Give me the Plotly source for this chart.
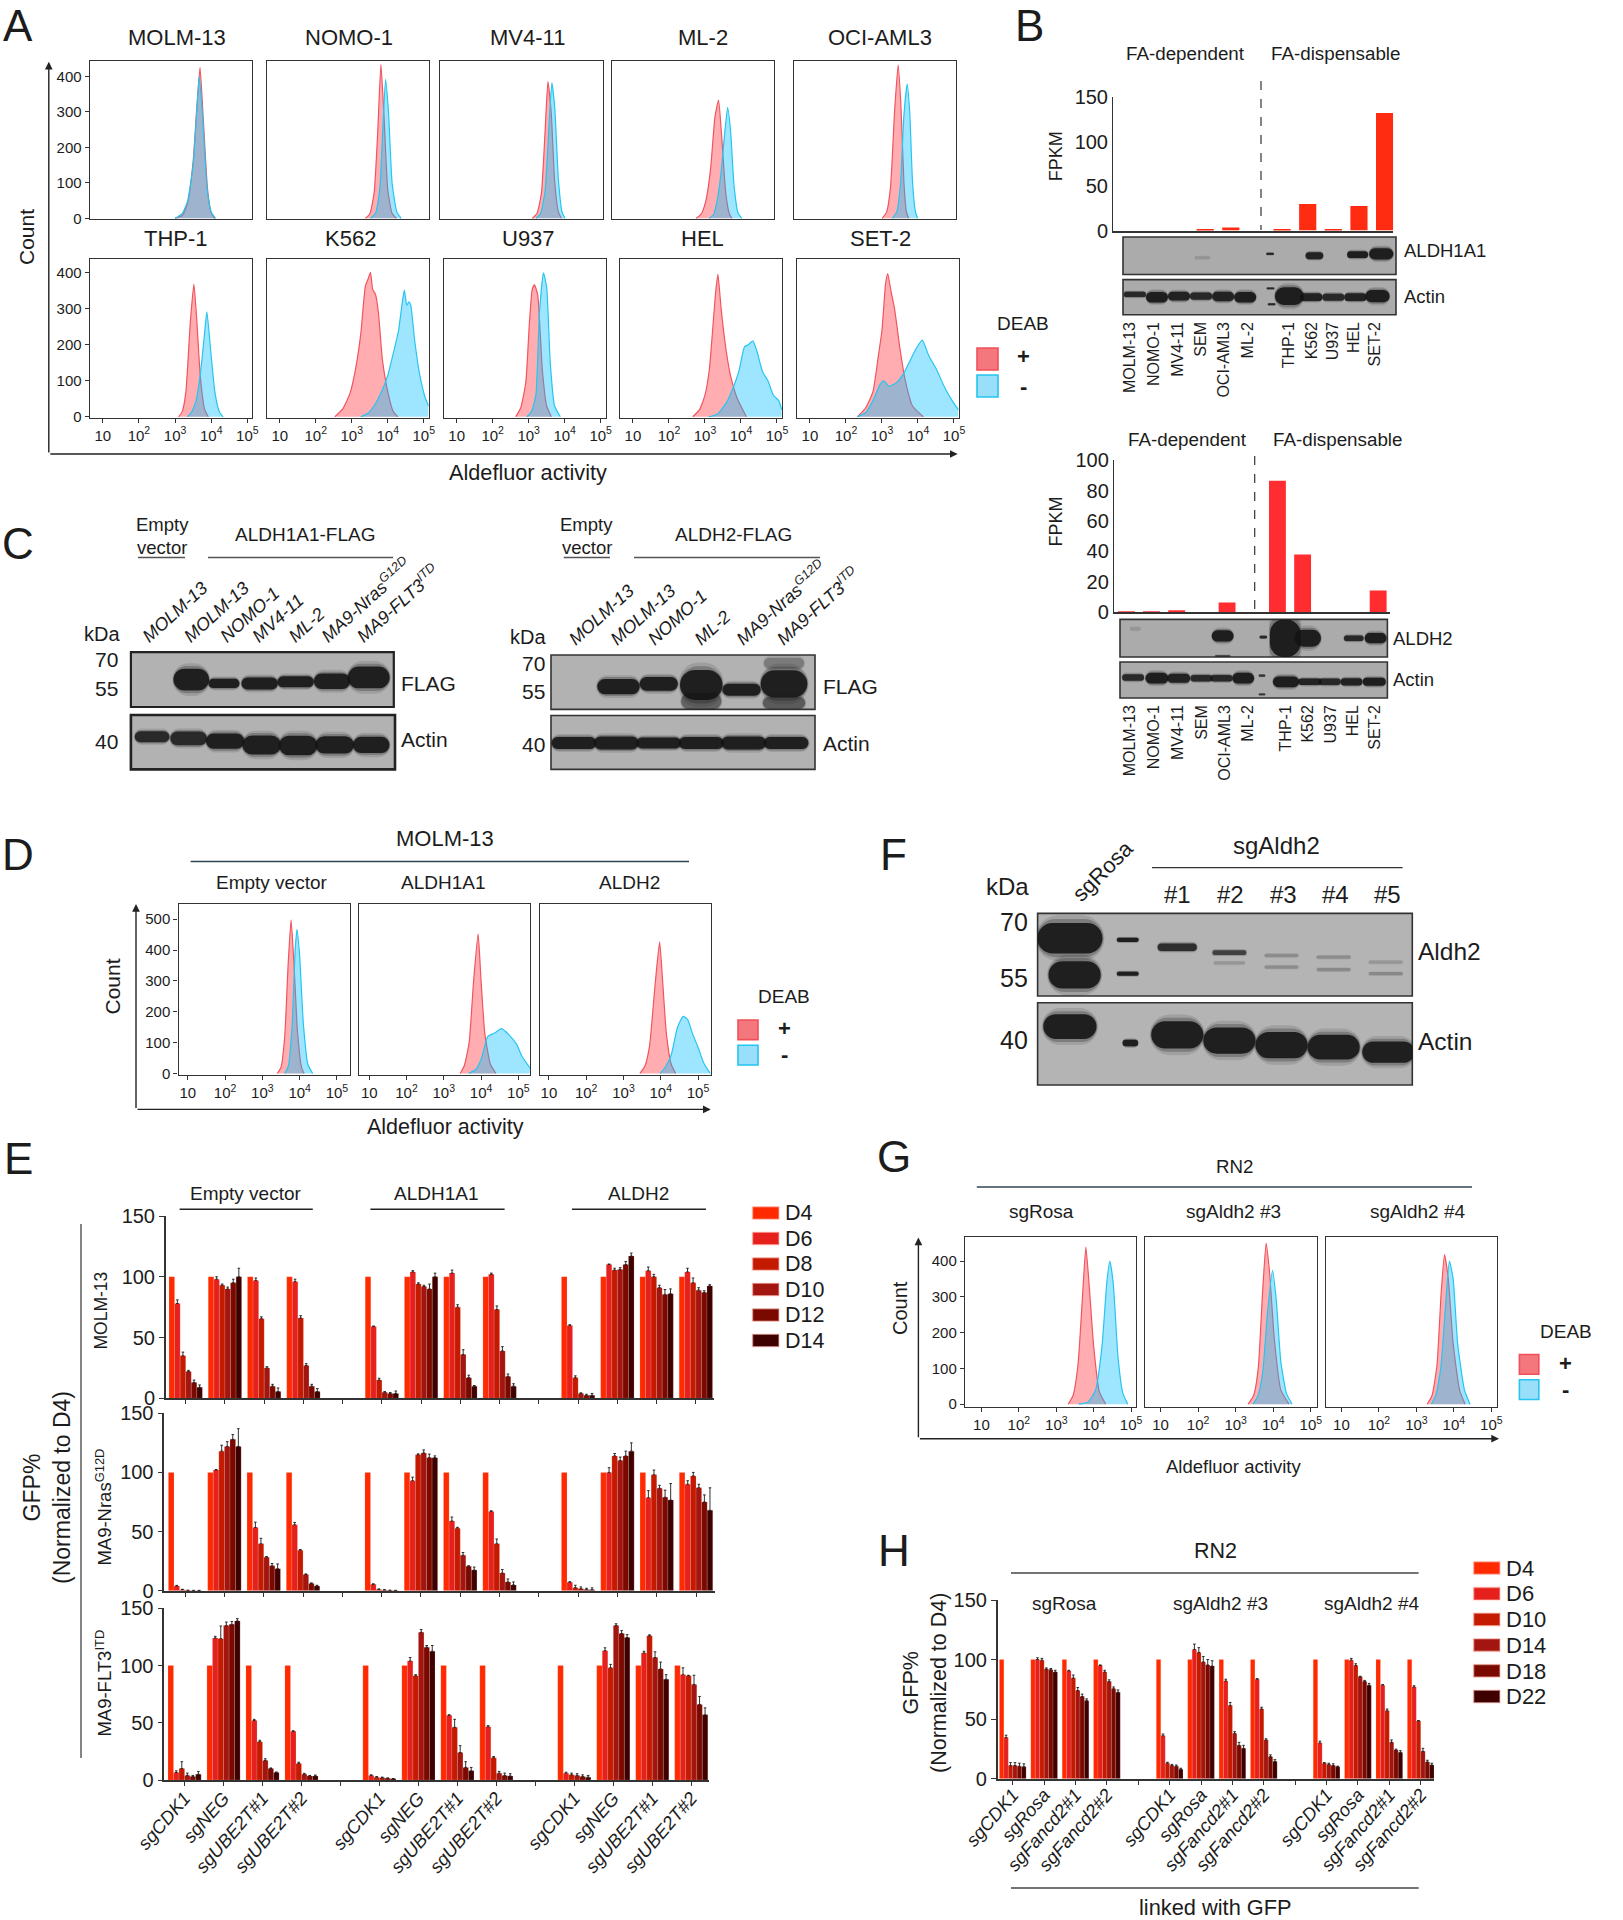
import plotly.graph_objects as go

W, H = 1623, 1920
FONT = "Liberation Sans"
INK = "#1c1c1c"

# ---------- flow cytometry histograms: log10 intensity and cell counts ----------
molm13_plus_x = [3.0,3.2,3.35,3.5,3.6,3.69,3.78,3.9,4.0,4.1]
molm13_plus_y = [0,8,45,160,310,425,280,80,15,0]
molm13_minus_x = [3.0,3.2,3.35,3.5,3.6,3.67,3.76,3.88,4.0,4.12]
molm13_minus_y = [0,14,50,150,300,400,290,90,18,0]
nomo1_plus_x = [3.38,3.5,3.62,3.72,3.81,3.9,4.0,4.12,4.24]
nomo1_plus_y = [0,12,70,240,433,280,80,14,0]
nomo1_minus_x = [3.52,3.66,3.78,3.87,3.94,4.02,4.12,4.25,4.37]
nomo1_minus_y = [0,15,85,270,391,300,100,18,0]
mv411_plus_x = [3.2,3.33,3.45,3.55,3.63,3.72,3.82,3.92,4.0]
mv411_plus_y = [0,14,70,240,385,300,100,18,0]
mv411_minus_x = [3.3,3.43,3.55,3.66,3.74,3.82,3.92,4.02,4.1]
mv411_minus_y = [0,14,75,260,382,310,110,18,0]
ml2_plus_x = [2.98,3.12,3.25,3.38,3.5,3.6,3.68,3.8,3.9,3.97]
ml2_plus_y = [0,12,50,140,285,333,240,70,12,0]
ml2_minus_x = [3.34,3.46,3.56,3.66,3.77,3.85,3.93,4.03,4.14,4.24]
ml2_minus_y = [0,10,50,120,240,312,250,90,15,0]
oci_plus_x = [3.1,3.22,3.33,3.44,3.54,3.62,3.7,3.77,3.83]
oci_plus_y = [0,18,90,300,432,310,100,18,0]
oci_minus_x = [3.38,3.5,3.6,3.7,3.79,3.86,3.94,4.02,4.08]
oci_minus_y = [0,18,90,290,378,300,100,18,0]
thp1_plus_x = [3.1,3.2,3.3,3.42,3.52,3.6,3.7,3.82,3.92]
thp1_plus_y = [0,15,70,260,369,270,110,20,0]
thp1_minus_x = [3.34,3.45,3.58,3.7,3.8,3.88,3.98,4.1,4.22,4.33]
thp1_minus_y = [0,12,45,120,215,292,190,70,15,0]
k562_plus_x = [2.53,2.75,2.95,3.1,3.25,3.38,3.46,3.52,3.58,3.66,3.74,3.85,4.0,4.15,4.28]
k562_plus_y = [0,22,65,130,230,365,385,402,355,340,290,160,70,15,0]
k562_minus_x = [3.25,3.45,3.65,3.85,4.0,4.15,4.3,4.38,4.46,4.53,4.59,4.64,4.75,4.9,5.05,5.13]
k562_minus_y = [0,10,35,75,115,175,240,300,352,310,320,310,210,110,50,30]
u937_plus_x = [2.64,2.78,2.92,3.02,3.1,3.16,3.25,3.38,3.5,3.63]
u937_plus_y = [0,25,95,260,355,367,340,130,30,0]
u937_minus_x = [2.95,3.08,3.2,3.3,3.41,3.5,3.6,3.72,3.88]
u937_minus_y = [0,15,60,290,400,360,150,30,0]
hel_plus_x = [2.66,2.85,3.0,3.12,3.22,3.3,3.36,3.45,3.58,3.72,3.9,4.15]
hel_plus_y = [0,20,60,130,250,350,396,300,190,110,50,0]
hel_minus_x = [3.1,3.35,3.6,3.8,3.95,4.1,4.2,4.33,4.45,4.6,4.75,4.9,5.05,5.13]
hel_minus_y = [0,8,40,85,130,195,200,211,180,125,100,60,45,20]
set2_plus_x = [2.32,2.55,2.75,2.9,3.0,3.1,3.16,3.25,3.35,3.5,3.65,3.85,4.15]
set2_plus_y = [0,25,70,170,240,370,398,350,300,190,100,30,0]
set2_minus_x = [2.32,2.55,2.75,2.95,3.05,3.2,3.4,3.6,3.75,3.95,4.12,4.3,4.5,4.75,4.95,5.12]
set2_minus_y = [0,12,45,90,100,85,95,120,150,190,213,170,135,80,45,20]

d_empty_plus_x = [3.4,3.5,3.6,3.69,3.77,3.85,3.94,4.05,4.12]
d_empty_plus_y = [0,20,120,350,498,350,140,20,0]
d_empty_minus_x = [3.6,3.7,3.8,3.88,3.93,4.0,4.1,4.22,4.35]
d_empty_minus_y = [0,25,160,400,467,380,160,30,0]
d_a1_plus_x = [3.44,3.55,3.68,3.8,3.92,4.0,4.1,4.25,4.4]
d_a1_plus_y = [0,25,100,300,452,300,130,30,0]
d_a1_minus_x = [3.67,3.85,4.0,4.18,4.35,4.55,4.75,4.95,5.1,5.33]
d_a1_minus_y = [0,12,45,120,130,145,125,95,55,15]
d_a2_plus_x = [3.44,3.58,3.7,3.85,3.97,4.05,4.15,4.28,4.4]
d_a2_plus_y = [0,25,90,290,426,300,130,30,0]
d_a2_minus_x = [3.98,4.12,4.28,4.45,4.6,4.72,4.85,5.0,5.15,5.33]
d_a2_minus_y = [0,20,60,150,185,175,130,85,35,0]

g_rosa_plus_x = [3.32,3.45,3.58,3.7,3.79,3.88,4.0,4.15,4.32]
g_rosa_plus_y = [0,25,110,300,439,330,160,35,0]
g_rosa_minus_x = [3.6,3.85,4.05,4.22,4.35,4.43,4.52,4.65,4.78,4.91]
g_rosa_minus_y = [0,6,40,160,340,400,340,130,30,0]
g_sg3_plus_x = [3.33,3.48,3.6,3.72,3.81,3.9,4.03,4.2,4.42]
g_sg3_plus_y = [0,25,100,320,450,370,180,40,0]
g_sg3_minus_x = [3.46,3.6,3.72,3.85,3.98,4.08,4.2,4.35,4.5]
g_sg3_minus_y = [0,25,90,260,374,290,120,30,0]
g_sg4_plus_x = [3.29,3.42,3.55,3.66,3.75,3.85,3.98,4.15,4.3]
g_sg4_plus_y = [0,25,110,310,418,350,170,40,0]
g_sg4_minus_x = [3.4,3.52,3.65,3.78,3.88,3.98,4.1,4.28,4.43]
g_sg4_minus_y = [0,25,100,280,400,350,170,40,0]

log_ticks = [1, 2, 3, 4, 5]
log_labels = ["10", "10<sup>2</sup>", "10<sup>3</sup>", "10<sup>4</sup>", "10<sup>5</sup>"]

# ---------- panel B bars ----------
b_lines = ["MOLM-13","NOMO-1","MV4-11","SEM","OCI-AML3","ML-2","THP-1","K562","U937","HEL","SET-2"]
aldh1a1_fpkm = [0,0,0,1,3.5,0,1.5,30,1.5,27.5,132]
aldh2_fpkm = [0.2,0.4,0.8,0,6.4,0,86.4,38,0,0,14.2]

# ---------- dropout bars: one row per guide, one column per time point ----------
e_days = ["D4","D6","D8","D10","D12","D14"]
h_days = ["D4","D6","D10","D14","D18","D22"]
day_colors = ["#ff2a00","#e5201d","#c41a00","#a3150f","#7a0a00","#3f0000"]
e_guides = ["sgCDK1","sgNEG","sgUBE2T#1","sgUBE2T#2","","sgCDK1","sgNEG","sgUBE2T#1","sgUBE2T#2","","sgCDK1","sgNEG","sgUBE2T#1","sgUBE2T#2"]
h_guides = ["sgCDK1","sgRosa","sgFancd2#1","sgFancd2#2","","sgCDK1","sgRosa","sgFancd2#1","sgFancd2#2","","sgCDK1","sgRosa","sgFancd2#1","sgFancd2#2"]
guide_slots = [0,1,2,3,5,6,7,8,10,11,12,13]

e_molm13 = [[100,78,35,22,13,9],[100,98,93,90,95,100],[100,97,65.5,25,10,5.5],[100,96,66,27,10,5.5],
            [100,59,15,5,4,4],[100,104,94,92,90,100],[100,103,75,36,17,10],[100,102,73,39,18,10],
            [100,60,17,4,2.5,2.5],[100,110,105.5,106,110,117],[100,105,100,91,85.5,86],[100,104,95,89,87,92.5]]
e_molm13_err = [[0,3,3,1,2,2],[0,2,1,1.5,3,7],[0,2,1.5,1,1.5,3],[0,2,2,1.5,1.5,2.5],
                [0,.5,1.5,.5,.8,2],[0,1,1,1,4,3],[0,2.5,2,4,2,.5],[0,1,3,3.5,2,2],
                [0,.5,1.5,.5,.8,1.5],[0,.5,1.5,1.5,2.5,2.5],[0,3,2,2,4,4],[0,3,4,2,1.5,1]]
e_nras = [[100,4,.9,.3,.2,.2],[100,102,118,122,128,122],[100,53.4,39.7,28.3,21,18.6],[100,55.7,34.3,13.7,6,4],
          [100,5.4,1.1,.6,.3,.2],[100,93,115,116.5,112.5,112.5],[100,58.9,52.9,30,20.6,17.4],[100,66.9,39.7,14.9,7.4,4.9],
          [100,7.1,2.6,1.7,1.1,.9],[100,100,114,110,114,118],[100,78.6,98,86.6,79,76.6],[100,90,97,87,75,68]]
e_nras_err = [[0,.5,.3,.1,.1,.1],[0,.4,5,4,4,15],[0,4.6,4.6,.6,2,4],[0,2,.5,.5,.6,.6],
              [0,.4,.4,.3,.1,.1],[0,3,.7,2.5,3,1.5],[0,3.4,.7,2.3,.5,2.6],[0,.7,4,3,2.5,2.5],
              [0,.5,2,1.5,1,1.5],[0,4,2,3,4,7],[0,6,4,2.5,6,14],[0,3,3,3,6,19]]
e_flt3 = [[100,6.5,10,4,3,5],[100,124,123.5,135,136,139],[100,52,33.5,17,10,6.5],[100,42.5,14.5,5,3.5,3.5],
          [100,4,2.5,2,1.5,1],[100,104,91,129,116,112.5],[100,56.5,46,24,11,8],[100,46.5,19.5,6,4,3.5],
          [100,6,4.5,4,3,2.5],[100,113,98,135,128,124.5],[100,111,126,107,97,88],[100,92,91,83.5,66,57]]
e_flt3_err = [[0,1.5,6,2,1,2.5],[0,1.5,11,3,2.5,2],[0,1,1.2,1.5,.5,.5],[0,.5,1,.8,.5,.8],
              [0,.5,.5,.5,.3,.3],[0,3,1,2.5,1.5,5],[0,.5,7,6,5,3],[0,1,1,1.5,2,2],
              [0,.8,1.5,1.5,1.5,1.5],[0,2.5,3,1.5,2.5,2.5],[0,1.5,.8,5,6,4],[0,6,.5,8,7,6]]
h_rn2 = [[100,34.5,11,11,10.5,10],[100,100,99.5,92,91.5,89.5],[100,90.5,84.5,74,69,65.5],[100,95,89.5,81.5,75.5,72.5],
         [100,36,13,11,10.5,8],[100,108.5,106,98,95.5,94.5],[100,82,61.5,38,28,25.5],[100,83.5,58.5,32.5,18.5,14.5],
         [100,30,13,12,11,10],[100,99.5,95,85.5,81.5,78.5],[100,78.5,57,30.5,24,22],[100,77,48.5,23,14,11.5]]
h_rn2_err = [[0,2,2.5,2.5,2.5,2.5],[0,1.5,1.5,1,1,1.5],[0,.5,2.5,2.5,2,1.5],[0,.5,1.5,1.5,1.5,2],
             [0,1.5,.8,1,1,.8],[0,4.5,4,4.5,4.5,4.5],[0,1.5,2.5,1.5,2.5,2.5],[0,.5,1.5,1,1.5,1.5],
             [0,1.5,.5,1,1.5,.5],[0,1.5,1.5,.5,1,1.5],[0,.5,1.5,2,.8,1.5],[0,1,.3,2.5,1.5,1.5]]

# ---------- western blot bands: lane, lane width, vertical place and thickness (0-1), darkness (0-1) ----------
b1_aldh1a1_lane = [3.06,6.13,8.14,10.1,11.17]
b1_aldh1a1_wide = [.7,.35,.8,.95,1.1]
b1_aldh1a1_mid = [.45,.55,.5,.53,.55]
b1_aldh1a1_high = [.08,.06,.18,.18,.3]
b1_aldh1a1_dark = [.12,.9,.95,1,1]
b1_actin_lane = [0,1,2,3,4,5,6.15,6.2,7,8,9,10,11]
b1_actin_wide = [1,1,1,1,1,1,.35,.35,1.3,1,1,1,1.1]
b1_actin_mid = [.58,.5,.53,.53,.52,.5,.75,.3,.53,.5,.5,.5,.53]
b1_actin_high = [.15,.3,.25,.2,.27,.3,.05,.06,.5,.22,.2,.22,.35]
b1_actin_dark = [.9,1,.95,.9,.95,1,.9,.9,1,.95,.9,.95,1]
b2_aldh2_lane = [.1,4.1,4.1,5.96,6.96,8,10.1,11.1]
b2_aldh2_wide = [.5,1,.7,.35,1.4,1.2,.9,1]
b2_aldh2_mid = [.75,.56,.03,.53,.5,.5,.5,.5]
b2_aldh2_high = [.1,.3,.05,.07,1,.45,.15,.27]
b2_aldh2_dark = [.1,1,.6,.9,1,1,.9,1]
b2_actin_lane = [0,1.09,2.09,3.13,4.05,5.04,5.9,5.9,7,8.09,9,10,11.04]
b2_actin_wide = [1,1.05,1.05,1,1,1,.3,.3,1.2,1.05,1,1,1.05]
b2_actin_mid = [.57,.55,.55,.55,.55,.55,.62,.1,.45,.45,.45,.45,.45]
b2_actin_high = [.18,.3,.25,.18,.18,.3,.06,.05,.3,.18,.18,.2,.22]
b2_actin_dark = [.9,1,.95,.9,.9,1,.8,.8,1,.95,.9,.95,1]
c1_flag_lane = [1.08,1.98,2.96,3.95,4.95,5.96]
c1_flag_wide = [.98,.85,1,1,1,1.15]
c1_flag_mid = [.5,.43,.43,.46,.47,.54]
c1_flag_high = [.4,.17,.22,.2,.28,.4]
c1_flag_dark = [1,1,1,1,1,1]
c1_actin_lane = [0,1,2,3,4,5,6]
c1_actin_wide = [.95,1,1.05,1.05,1.05,1.05,1]
c1_actin_mid = [.6,.57,.52,.45,.44,.45,.45]
c1_actin_high = [.2,.25,.28,.35,.36,.32,.3]
c1_actin_dark = [.9,.9,1,1,1,1,1]
c2_flag_lane = [1.05,2,3,3.95,4.95,3,4.95,4.95]
c2_flag_wide = [1,.9,1,.9,1.1,.95,1,.95]
c2_flag_mid = [.42,.47,.45,.36,.47,.15,.12,.85]
c2_flag_high = [.28,.25,.55,.22,.5,.3,.22,.2]
c2_flag_dark = [1,1,1,1,1,.45,.5,.3]
c2_actin_lane = [0,1,2,3,4,5]
c2_actin_wide = [1.05,1.05,1.05,1.05,1.05,1.05]
c2_actin_mid = [.49,.49,.49,.49,.49,.49]
c2_actin_high = [.22,.24,.2,.22,.24,.22]
c2_actin_dark = [1,1,1,1,1,1]
f_aldh2_lane = [-2.06,-1.97,-.95,-.95,0,1,2,2,3,3,4,4,1]
f_aldh2_wide = [1.25,1,.42,.42,.75,.65,.65,.65,.65,.65,.65,.65,.6]
f_aldh2_mid = [.7,.255,.68,.27,.59,.525,.49,.35,.47,.32,.41,.27,.4]
f_aldh2_high = [.37,.33,.05,.05,.09,.06,.04,.04,.04,.04,.04,.04,.04]
f_aldh2_dark = [1,1,1,1,.85,.7,.2,.2,.2,.22,.15,.22,.15]
f_actin_lane = [-2.06,-.9,0,1,2,3,4.05]
f_actin_wide = [1.02,.3,1,1,1,1,1]
f_actin_mid = [.71,.51,.61,.54,.485,.46,.4]
f_actin_high = [.3,.08,.33,.32,.32,.3,.26]
f_actin_dark = [1,1,1,1,1,1,1]

fig = go.Figure()
layout = dict(width=W, height=H, autosize=False, margin=dict(l=0, r=0, t=0, b=0, pad=0),
              paper_bgcolor="white", plot_bgcolor="rgba(0,0,0,0)", showlegend=False,
              font=dict(family=FONT, color=INK), barmode="group", bargap=0.15, bargroupgap=0)
shapes, notes = [], []
n_axes = [0]


def px(x): return x / W
def py(y): return 1 - y / H


def axes(box, xa, ya):
    n_axes[0] += 1
    n = n_axes[0]
    s = "" if n == 1 else str(n)
    x0, y0, x1, y1 = box
    layout["xaxis" + s] = dict(domain=[px(x0), px(x1)], anchor="y" + s, zeroline=False, showgrid=False, automargin=False, **xa)
    layout["yaxis" + s] = dict(domain=[py(y1), py(y0)], anchor="x" + s, zeroline=False, showgrid=False, automargin=False, **ya)
    return "x" + s, "y" + s


def T(x, y, text, size=19, rot=0, anchor="center", style="normal"):
    if anchor == "left":
        x -= 2
    notes.append(dict(x=px(x), y=py(y), xref="paper", yref="paper", text=text, showarrow=False,
                      textangle=rot, xanchor=anchor, yanchor="middle", align="center",
                      font=dict(size=size, color=INK, family=FONT, style=style)))


def L(x0, y0, x1, y1, color="#222222", width=1.4, dash="solid"):
    shapes.append(dict(type="line", xref="paper", yref="paper", x0=px(x0), x1=px(x1), y0=py(y0), y1=py(y1),
                       line=dict(color=color, width=width, dash=dash)))


def R(x0, y0, x1, y1, fill, line):
    shapes.append(dict(type="rect", xref="paper", yref="paper", x0=px(x0), x1=px(x1), y0=py(y0), y1=py(y1),
                       fillcolor=fill, line=dict(color=line, width=1.6)))


def arrows(xa, ytop, ybot, xright):
    for hx, hy, dx, dy in [(xa, ytop, 0, ybot - ytop), (xright, ybot, xa - xright, 0)]:
        notes.append(dict(x=px(hx), y=py(hy), xref="paper", yref="paper", text="", showarrow=True,
                          ax=dx, ay=dy, axref="pixel", ayref="pixel", arrowhead=2, arrowsize=1.1,
                          arrowwidth=1.4, arrowcolor="#222222", standoff=0, startstandoff=0))


def hist(box, xr, yr, curves, showx, showy):
    frame = dict(showline=True, mirror=True, linecolor="#333333", linewidth=1.4)
    xa = dict(range=xr, tickvals=log_ticks, ticktext=log_labels, ticks="outside" if showx else "",
              ticklen=4, tickcolor="#333333", showticklabels=showx, tickfont=dict(size=15), **frame)
    ya = dict(range=yr, dtick=100, ticks="outside" if showy else "", ticklen=4, tickcolor="#333333",
              showticklabels=showy, tickfont=dict(size=15), **frame)
    xn, yn = axes(box, xa, ya)
    px_, py_, mx_, my_ = curves
    fig.add_trace(go.Scatter(x=px_, y=py_, xaxis=xn, yaxis=yn, mode="lines", fill="tozeroy", hoverinfo="skip",
                             line=dict(color="#f2545f", width=1.2, shape="spline", smoothing=0.5),
                             fillcolor="rgba(255,60,70,0.42)"))
    fig.add_trace(go.Scatter(x=mx_, y=my_, xaxis=xn, yaxis=yn, mode="lines", fill="tozeroy", hoverinfo="skip",
                             line=dict(color="#25c5f0", width=1.2, shape="spline", smoothing=0.5),
                             fillcolor="rgba(0,190,255,0.38)"))


def blot(box, xr, lane, wide, mid, high, dark, bg="#b2b2b2", edge="#333333", edge_w=1.6, radius="45%", **xa):
    base_x = dict(range=xr, ticks="", showticklabels=False)
    base_x.update(xa)
    xn, yn = axes(box, base_x, dict(range=[0, 1], ticks="", showticklabels=False))
    dom_x = xn + " domain"
    dom_y = yn + " domain"
    shapes.append(dict(type="rect", xref=dom_x, yref=dom_y, x0=0, x1=1, y0=0, y1=1, fillcolor=bg, layer="below",
                       line=dict(color=edge, width=edge_w)))
    for grow, fade in [(1.5, 0.12), (1.25, 0.25), (1.0, 0.88)]:
        fig.add_trace(go.Bar(x=lane, y=[h * grow for h in high],
                             base=[m - h * grow / 2 for m, h in zip(mid, high)],
                             width=[w * (1 + (grow - 1) * 0.12) for w in wide], xaxis=xn, yaxis=yn, offsetgroup="b",
                             hoverinfo="skip",
                             marker=dict(color=[f"rgba(18,18,18,{d * fade:.2f})" for d in dark],
                                         cornerradius=radius, line=dict(width=0))))


def dropout(box, xr, table, err, colors, xa_extra, yfont=20):
    xa = dict(range=xr, tickvals=list(range(14)), ticks="outside", ticklen=4, showline=True, linecolor="#333333",
              linewidth=2, tickcolor="#333333", showticklabels=False)
    xa.update(xa_extra)
    ya = dict(range=[0, 150], tickvals=[0, 50, 100, 150], ticks="outside", ticklen=5, showline=True,
              linecolor="#333333", linewidth=1.6, tickcolor="#333333", tickfont=dict(size=yfont))
    xn, yn = axes(box, xa, ya)
    for d, color in enumerate(colors):
        fig.add_trace(go.Bar(x=guide_slots, y=[row[d] for row in table], xaxis=xn, yaxis=yn, hoverinfo="skip",
                             marker=dict(color=color, line=dict(color="rgba(255,200,190,0.45)", width=0.4)),
                             error_y=dict(type="data", symmetric=False, array=[row[d] for row in err],
                                          arrayminus=[0] * 12, color="#1a1a1a", thickness=0.9, width=1.3,
                                          visible=d > 0)))


# ========== A ==========
A_top = [(molm13_plus_x, molm13_plus_y, molm13_minus_x, molm13_minus_y),
         (nomo1_plus_x, nomo1_plus_y, nomo1_minus_x, nomo1_minus_y),
         (mv411_plus_x, mv411_plus_y, mv411_minus_x, mv411_minus_y),
         (ml2_plus_x, ml2_plus_y, ml2_minus_x, ml2_minus_y),
         (oci_plus_x, oci_plus_y, oci_minus_x, oci_minus_y)]
A_bot = [(thp1_plus_x, thp1_plus_y, thp1_minus_x, thp1_minus_y),
         (k562_plus_x, k562_plus_y, k562_minus_x, k562_minus_y),
         (u937_plus_x, u937_plus_y, u937_minus_x, u937_minus_y),
         (hel_plus_x, hel_plus_y, hel_minus_x, hel_minus_y),
         (set2_plus_x, set2_plus_y, set2_minus_x, set2_minus_y)]
for i, ((x0, x1), c) in enumerate(zip([(89.8, 252.4), (266.8, 428.8), (439.8, 602.5), (611.6, 774.2), (793.7, 955.8)], A_top)):
    hist((x0, 61, x1, 219), [0.64, 5.14], [-2, 443], c, False, i == 0)
for i, ((x0, x1), c) in enumerate(zip([(89.8, 252.4), (266.8, 428.8), (443.7, 605.7), (620, 782), (797, 959)], A_bot)):
    hist((x0, 259.3, x1, 417.5), [0.64, 5.14], [-2, 438], c, True, i == 0)
for x, t in zip([177, 349, 527, 702.7, 880], ["MOLM-13", "NOMO-1", "MV4-11", "ML-2", "OCI-AML3"]):
    T(x, 37.7, t, 22)
for x, t in zip([175.7, 350, 528, 702.7, 880], ["THP-1", "K562", "U937", "HEL", "SET-2"]):
    T(x, 238, t, 22)
T(27, 237, "Count", 21, rot=-90)
T(528, 472.7, "Aldefluor activity", 21.7)
arrows(48.8, 61.7, 454, 957.7)
T(1023, 323, "DEAB", 19)
R(977, 348, 998, 370, "#f4777e", "#f0505a")
R(977, 375, 998, 397, "#9adffa", "#25c5f0")
T(1023, 357, "<b>+</b>", 22)
T(1023, 386, "<b>-</b>", 22)

# ========== B ==========
def fpkm(box, xr, yr, vals, dtick, color_list):
    xa = dict(range=xr, ticks="", showticklabels=False, showline=True, linecolor="#333333", linewidth=1.6)
    ya = dict(range=yr, dtick=dtick, ticks="", showline=True, linecolor="#333333", linewidth=1.4,
              tickfont=dict(size=20))
    xn, yn = axes(box, xa, ya)
    fig.add_trace(go.Bar(x=list(range(11)), y=vals, width=0.67, xaxis=xn, yaxis=yn, hoverinfo="skip",
                         marker=dict(color=color_list, line=dict(width=0))))


fpkm((1113.2, 97, 1393.3, 230.6), [-0.59, 10.34], [0, 150], aldh1a1_fpkm, 50, "#ff2c12")
fpkm((1114, 460.2, 1390, 612.2), [-0.49, 10.47], [0, 100], aldh2_fpkm, 20, "#ff2c30")
L(1261, 81, 1261, 230, "#333333", 1.2, "dash")
L(1254.7, 456, 1254.7, 612, "#333333", 1.2, "dash")
T(1055.6, 156.6, "FPKM", 18, rot=-90)
T(1055.6, 522, "FPKM", 18, rot=-90)
T(1185.5, 54, "FA-dependent", 18.8)
T(1335.7, 54, "FA-dispensable", 18.8)
T(1187.5, 440, "FA-dependent", 18.8)
T(1337.7, 440, "FA-dispensable", 18.8)
blot((1123, 237, 1396, 274.5), [-.54, 11.84], b1_aldh1a1_lane, b1_aldh1a1_wide, b1_aldh1a1_mid, b1_aldh1a1_high, b1_aldh1a1_dark, bg="#ababab")
blot((1123, 279.6, 1396, 314.8), [-.54, 11.84], b1_actin_lane, b1_actin_wide, b1_actin_mid, b1_actin_high, b1_actin_dark, bg="#ababab",
     showticklabels=True, tickvals=[-.22, .86, 1.93, 3, 4.05, 5.14, 7, 8, 8.96, 9.92, 10.86], ticktext=b_lines, tickangle=-90,
     tickfont=dict(size=16), ticklabelstandoff=3)
blot((1120, 619.4, 1387.4, 657), [-.6, 11.64], b2_aldh2_lane, b2_aldh2_wide, b2_aldh2_mid, b2_aldh2_high, b2_aldh2_dark, bg="#ababab")
blot((1120, 662, 1387.4, 698), [-.6, 11.64], b2_actin_lane, b2_actin_wide, b2_actin_mid, b2_actin_high, b2_actin_dark, bg="#ababab",
     showticklabels=True, tickvals=[-.13, .96, 2.04, 3.13, 4.18, 5.25, 7, 8, 9.05, 10.05, 11.05], ticktext=b_lines, tickangle=-90,
     tickfont=dict(size=16), ticklabelstandoff=3)
T(1404, 250, "ALDH1A1", 18.5, anchor="left")
T(1404, 296, "Actin", 18.5, anchor="left")
T(1393, 638, "ALDH2", 18.5, anchor="left")
T(1393, 679, "Actin", 18.5, anchor="left")

# ========== C ==========
c1_names = ["MOLM-13", "MOLM-13", "NOMO-1", "MV4-11", "ML-2", "MA9-Nras<sup>G12D</sup>", "MA9-FLT3<sup>ITD</sup>"]
c2_names = ["MOLM-13", "MOLM-13", "NOMO-1", "ML-2", "MA9-Nras<sup>G12D</sup>", "MA9-FLT3<sup>ITD</sup>"]
blot((130.9, 652.2, 393.8, 707), [-.58, 6.65], c1_flag_lane, c1_flag_wide, c1_flag_mid, c1_flag_high, c1_flag_dark, edge="#222222", edge_w=2.2,
     side="top", showticklabels=True, tickvals=[-.24, .9, 1.9, 2.78, 3.78, 4.68, 5.66], ticktext=c1_names, tickangle=-42,
     tickfont=dict(size=18, style="italic"), ticklabelstandoff=2)
blot((130.9, 715, 395, 769.4), [-.58, 6.65], c1_actin_lane, c1_actin_wide, c1_actin_mid, c1_actin_high, c1_actin_dark, edge="#222222", edge_w=2.6)
blot((551, 655, 815, 709.4), [-.54, 5.68], c2_flag_lane, c2_flag_wide, c2_flag_mid, c2_flag_high, c2_flag_dark,
     side="top", showticklabels=True, tickvals=[-.1, .88, 1.76, 2.86, 3.85, 4.8], ticktext=c2_names, tickangle=-42,
     tickfont=dict(size=18, style="italic"), ticklabelstandoff=2)
blot((551, 715.5, 815, 769.4), [-.54, 5.68], c2_actin_lane, c2_actin_wide, c2_actin_mid, c2_actin_high, c2_actin_dark)
T(162, 524, "Empty", 18.5); T(162, 547, "vector", 18.5)
L(138, 557.5, 185, 557.5, "#555555", 1.4)
L(208, 557.5, 393, 557.5, "#555555", 1.4)
T(305, 535, "ALDH1A1-FLAG", 19)
T(586.7, 524, "Empty", 18.5); T(586.7, 547, "vector", 18.5)
L(563.7, 557.5, 610, 557.5, "#555555", 1.4)
L(634, 557.5, 820, 557.5, "#555555", 1.4)
T(733, 535, "ALDH2-FLAG", 19)
T(101.6, 633.5, "kDa", 20); T(106, 659, "70", 21); T(106, 688.6, "55", 21); T(106, 741, "40", 21)
T(528, 636.7, "kDa", 20); T(533, 663, "70", 21); T(533, 692, "55", 21); T(533, 745, "40", 21)
T(401, 683, "FLAG", 21, anchor="left"); T(401, 739.6, "Actin", 21, anchor="left")
T(823, 686.5, "FLAG", 21, anchor="left"); T(823, 743.7, "Actin", 21, anchor="left")

# ========== D ==========
hist((178.5, 903.7, 349.6, 1074.7), [0.75, 5.34], [-4, 550], (d_empty_plus_x, d_empty_plus_y, d_empty_minus_x, d_empty_minus_y), True, True)
hist((358.8, 903.7, 529.9, 1074.7), [0.72, 5.31], [-4, 550], (d_a1_plus_x, d_a1_plus_y, d_a1_minus_x, d_a1_minus_y), True, False)
hist((539.6, 903.7, 710.7, 1074.7), [0.75, 5.34], [-4, 550], (d_a2_plus_x, d_a2_plus_y, d_a2_minus_x, d_a2_minus_y), True, False)
T(445, 838.8, "MOLM-13", 22)
L(190.6, 861.6, 689, 861.6, "#2f4654", 1.5)
T(271.5, 882.4, "Empty vector", 19)
T(443.7, 882.4, "ALDH1A1", 19)
T(629.7, 882.4, "ALDH2", 19)
T(112, 986.5, "Count", 21, rot=-90)
T(445, 1127, "Aldefluor activity", 21.5)
arrows(136, 904, 1109.4, 710.7)
T(784, 996, "DEAB", 19)
R(738, 1020, 758, 1039.6, "#f4777e", "#f0505a")
R(738, 1045.3, 758, 1065, "#9adffa", "#25c5f0")
T(784, 1028.6, "<b>+</b>", 22)
T(784, 1054, "<b>-</b>", 22)

# ========== E ==========
dropout((165.8, 1216, 714.3, 1398.3), [-.507, 13.47], e_molm13, e_molm13_err, day_colors, {})
dropout((164.3, 1413.3, 715.3, 1590.7), [-.53, 13.49], e_nras, e_nras_err, day_colors, {})
dropout((164.3, 1608.3, 709.2, 1780), [-.52, 13.46], e_flt3, e_flt3_err, day_colors,
        dict(showticklabels=True, ticktext=e_guides, tickangle=-49, tickfont=dict(size=18.5, style="italic"), ticklabelstandoff=-6))
T(246, 1193, "Empty vector", 19); T(436.7, 1193, "ALDH1A1", 19); T(638.8, 1193, "ALDH2", 19)
L(179.6, 1209.3, 312.8, 1209.3); L(370.4, 1209.3, 504.6, 1209.3); L(572, 1209.3, 706, 1209.3)
T(100.5, 1311, "MOLM-13", 17.5, rot=-90)
T(103.6, 1507, "MA9-Nras<sup>G12D</sup>", 18.5, rot=-90)
T(103.6, 1683, "MA9-FLT3<sup>ITD</sup>", 18.5, rot=-90)
T(47, 1488, "GFP%<br>(Normalized to D4)", 23, rot=-90)
L(81, 1224, 81, 1758, "#333333", 1.2)
for i, d in enumerate(e_days):
    yy = 1206.7 + 25.5 * i
    R(752.5, yy, 779, yy + 12.5, day_colors[i], "rgba(255,190,180,0.5)")
    T(785, yy + 6.5, d, 21.5, anchor="left")

# ========== F ==========
blot((1037.6, 913.4, 1412.3, 996), [-2.68, 4.51], f_aldh2_lane, f_aldh2_wide, f_aldh2_mid, f_aldh2_high, f_aldh2_dark, bg="#b4b4b4")
blot((1037.6, 1002.7, 1412.3, 1085), [-2.68, 4.51], f_actin_lane, f_actin_wide, f_actin_mid, f_actin_high, f_actin_dark, bg="#b4b4b4")
T(1007.4, 886.5, "kDa", 24)
T(1102, 871, "sgRosa", 22, rot=-45)
T(1276, 845, "sgAldh2", 24)
L(1152, 867.6, 1402.6, 867.6, "#333333", 1.2)
for x, t in zip([1177.8, 1230.8, 1283, 1335, 1387.5], ["#1", "#2", "#3", "#4", "#5"]):
    T(x, 894.5, t, 24)
T(1013.8, 922, "70", 25); T(1013.8, 977.8, "55", 25); T(1013.8, 1040, "40", 25)
T(1418, 951, "Aldh2", 24.5, anchor="left"); T(1418, 1041.8, "Actin", 24.5, anchor="left")

# ========== G ==========
hist((965, 1236.7, 1136, 1407), [0.56, 5.13], [-8, 468], (g_rosa_plus_x, g_rosa_plus_y, g_rosa_minus_x, g_rosa_minus_y), True, True)
hist((1144.7, 1236.7, 1316.5, 1407), [0.58, 5.15], [-8, 468], (g_sg3_plus_x, g_sg3_plus_y, g_sg3_minus_x, g_sg3_minus_y), True, False)
hist((1325.7, 1236.7, 1497, 1407), [0.58, 5.15], [-8, 468], (g_sg4_plus_x, g_sg4_plus_y, g_sg4_minus_x, g_sg4_minus_y), True, False)
T(1234, 1166.8, "RN2", 18.7)
L(976.8, 1187, 1472, 1187, "#2f4654", 1.4)
T(1041.5, 1211.4, "sgRosa", 19); T(1233.7, 1211.4, "sgAldh2 #3", 19); T(1417.7, 1211.4, "sgAldh2 #4", 19)
T(900, 1308, "Count", 20, rot=-90)
T(1233.7, 1466, "Aldefluor activity", 18.5)
arrows(918.4, 1237.5, 1438.7, 1499)
T(1565.6, 1331, "DEAB", 19)
R(1519.4, 1354.5, 1538.8, 1374.3, "#f4777e", "#f0505a")
R(1519.4, 1379.8, 1538.8, 1399.5, "#9adffa", "#25c5f0")
T(1565.6, 1363, "<b>+</b>", 22)
T(1565.6, 1389.4, "<b>-</b>", 22)

# ========== H ==========
dropout((997.7, 1600, 1434.2, 1778.7), [-.48, 13.43], h_rn2, h_rn2_err, day_colors,
        dict(showticklabels=True, ticktext=h_guides, tickangle=-49, tickfont=dict(size=18.5, style="italic"), ticklabelstandoff=-8))
T(1215, 1550.7, "RN2", 21.5)
L(1011, 1573, 1418.6, 1573, "#444444", 1.4)
T(1064, 1603, "sgRosa", 19); T(1220, 1603, "sgAldh2 #3", 19); T(1372.4, 1603, "sgAldh2 #4", 19)
L(1011, 1888, 1418.6, 1888, "#444444", 1.4)
T(1215, 1907, "linked with GFP", 21.8)
T(925, 1683, "GFP%<br>(Normalized to D4)", 21.5, rot=-90)
for i, d in enumerate(h_days):
    yy = 1561.7 + 25.7 * i
    R(1473.6, yy, 1500, yy + 12.6, day_colors[i], "rgba(255,190,180,0.5)")
    T(1505.7, yy + 6.5, d, 22, anchor="left")

# ========== panel letters ==========
for x, y, t in [(18, 25, "A"), (1029, 25, "B"), (18, 543, "C"), (18, 854, "D"), (18, 1158, "E"),
                (893, 854, "F"), (894, 1156, "G"), (894, 1550, "H")]:
    T(x, y, t, 44)

layout["shapes"] = shapes
layout["annotations"] = notes
fig.update_layout(**layout)
fig.write_html("out.html", config={"displayModeBar": False},
               post_script="document.body.style.margin='0';")
